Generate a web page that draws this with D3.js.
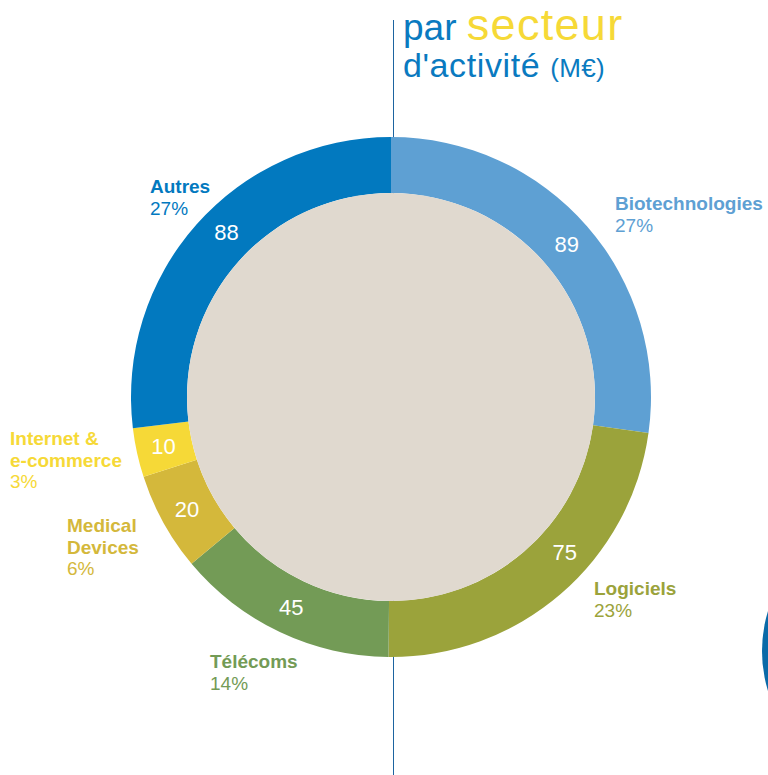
<!DOCTYPE html>
<html lang="fr">
<head>
  <meta charset="UTF-8">
  <title>Par secteur d'activité (M€)</title>
  <script src="https://d3js.org/d3.v7.min.js"></script>
  <style>
    html, body { margin: 0; padding: 0; background: #ffffff; }
    svg { display: block; }
    text { font-family: 'Liberation Sans', Arial, Helvetica, sans-serif; }
    .title { fill: #0a7ac0; }
    .value { fill: #ffffff; font-size: 22px; }
    .cat-name { font-size: 19px; font-weight: 700; }
    .cat-pct { font-size: 19px; }
  </style>
</head>
<body>
  <svg id="chart" width="768" height="775"></svg>

  <script>
    // data (M€), clockwise from the top
    const sectors = ["Biotechnologies", "Logiciels", "Télécoms", "Medical Devices", "Internet & e-commerce", "Autres"];
    const values = [89, 75, 45, 20, 10, 88];
    const colors = ["#5ea0d3", "#9ba33b", "#739b56", "#d4b83b", "#f6d937", "#0279bf"];

    // label lines (the name is broken like in the original)
    const nameLines = {
      "Biotechnologies": ["Biotechnologies"],
      "Logiciels": ["Logiciels"],
      "Télécoms": ["Télécoms"],
      "Medical Devices": ["Medical", "Devices"],
      "Internet & e-commerce": ["Internet &", "e-commerce"],
      "Autres": ["Autres"]
    };
    // where each outer label block starts (x, first baseline)
    const labelPos = {
      "Biotechnologies": [615, 210],
      "Logiciels": [594, 595],
      "Télécoms": [210, 668],
      "Medical Devices": [67, 532],
      "Internet & e-commerce": [10, 445],
      "Autres": [150, 193]
    };
    // small turn (degrees) of the value inside the ring, off the slice middle
    const valueShift = { "Logiciels": -7.5, "Autres": 3.5 };

    const svg = d3.select("#chart");
    const cx = 391, cy = 397, rOuter = 260, rInner = 204, rValue = 233, lineH = 21.5;

    const total = d3.sum(values);
    const data = sectors.map((s, i) => ({ name: s, value: values[i], color: colors[i] }));

    // decorative piece of the next chart, at the right edge
    svg.append("circle")
      .attr("cx", 899).attr("cy", 651).attr("r", 137)
      .attr("fill", "#0a6aa8");

    // vertical rule behind the ring
    svg.append("line")
      .attr("x1", 393.5).attr("x2", 393.5)
      .attr("y1", 20).attr("y2", 775)
      .attr("stroke", "#1d64a0").attr("stroke-width", 1);

    // title
    const t1 = svg.append("text").attr("class", "title").attr("x", 403).attr("y", 40);
    t1.append("tspan").attr("font-size", 37).text("par ");
    t1.append("tspan").attr("font-size", 45).attr("letter-spacing", 1.3)
      .attr("fill", "#f6d937").text("secteur");
    const t2 = svg.append("text").attr("class", "title").attr("x", 403).attr("y", 77)
      .attr("letter-spacing", 0.6);
    t2.append("tspan").attr("font-size", 34).text("d'activité ");
    t2.append("tspan").attr("font-size", 26).attr("letter-spacing", 0.3).text("(M€)");

    const pie = d3.pie().sort(null).value(d => d.value);
    const arc = d3.arc().innerRadius(rInner).outerRadius(rOuter);

    const g = svg.append("g").attr("transform", `translate(${cx},${cy})`);
    const arcs = pie(data);

    g.selectAll("path.slice")
      .data(arcs)
      .join("path")
      .attr("class", "slice")
      .attr("d", arc)
      .attr("fill", d => d.data.color);

    g.append("circle").attr("r", rInner).attr("fill", "#e0d9cf");

    g.selectAll("text.value")
      .data(arcs)
      .join("text")
      .attr("class", "value")
      .attr("text-anchor", "middle")
      .attr("dominant-baseline", "central")
      .attr("transform", d => {
        const a = (d.startAngle + d.endAngle) / 2 + (valueShift[d.data.name] || 0) * Math.PI / 180;
        return `translate(${rValue * Math.sin(a)},${-rValue * Math.cos(a)})`;
      })
      .text(d => d.data.value);

    // outer labels
    data.forEach(d => {
      const [x, y] = labelPos[d.name];
      const lines = nameLines[d.name];
      const lab = svg.append("g").attr("fill", d.color);
      lines.forEach((l, i) => {
        lab.append("text").attr("class", "cat-name")
          .attr("x", x).attr("y", y + i * lineH).text(l);
      });
      lab.append("text").attr("class", "cat-pct")
        .attr("x", x).attr("y", y + lines.length * lineH)
        .text(Math.round(d.value / total * 100) + "%");
    });
  </script>
</body>
</html>
